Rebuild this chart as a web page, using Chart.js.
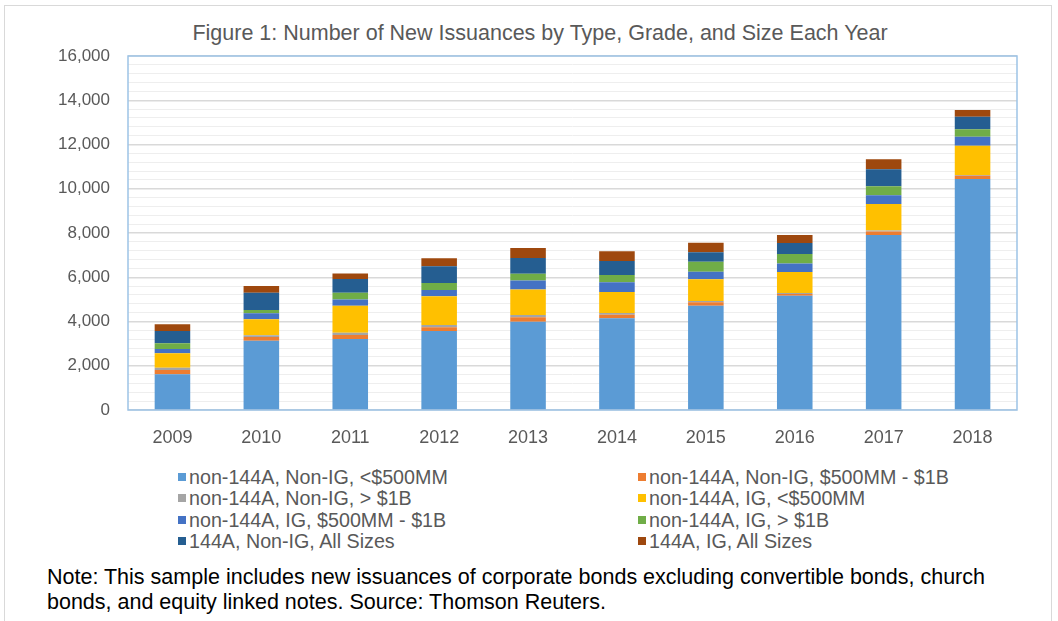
<!DOCTYPE html>
<html>
<head>
<meta charset="utf-8">
<script src="https://cdn.jsdelivr.net/npm/chart.js@4"></script>
<style>
  body { margin: 0; background: #fff; font-family: "Liberation Sans", Arial, sans-serif; }
  #frame { position: absolute; left: 4px; top: 5px; width: 1046px; height: 640px; border: 1px solid #d9d9d9; }
  #title { position: absolute; left: 0; top: 20px; width: 1080px; text-align: center; color: #595959; font-size: 21.5px; line-height: 26px; }
  #wrap { position: absolute; left: 0; top: 0; width: 1058px; height: 460px; }
  #legend { position: absolute; left: 0; top: 467px; width: 1058px; color: #595959; font-size: 19.7px; }
  .item { position: absolute; white-space: nowrap; line-height: 21px; }
  .item span { display: inline-block; width: 8px; height: 8px; margin-right: 3px; vertical-align: 3px; }
  #note { position: absolute; left: 47px; top: 565px; width: 938px; color: #000; font-size: 21.5px; line-height: 25px; }
  #note .l1 { text-align: justify; text-align-last: justify; }
</style>
</head>
<body>
<div id="frame"></div>
<div id="title">Figure 1: Number of New Issuances by Type, Grade, and Size Each Year</div>
<div id="wrap"><canvas id="chart"></canvas></div>
<div id="legend"></div>
<div id="note">
  <div class="l1">Note: This sample includes new issuances of corporate bonds excluding convertible bonds, church</div>
  <div>bonds, and equity linked notes. Source: Thomson Reuters.</div>
</div>
<script>
  const years = ['2009', '2010', '2011', '2012', '2013', '2014', '2015', '2016', '2017', '2018'];

  const nonNigSmall = [1613, 3130, 3209, 3571, 3992, 4144, 4716, 5160, 7910, 10441];
  const nonNigMid   = [200, 170, 180, 166, 196, 160, 150, 80, 160, 150];
  const nonNigLarge = [100, 80, 105, 105, 110, 80, 60, 50, 40, 30];
  const nonIgSmall  = [650, 720, 1220, 1296, 1145, 950, 979, 950, 1205, 1326];
  const nonIgMid    = [195, 270, 286, 286, 415, 437, 346, 380, 392, 407];
  const nonIgLarge  = [256, 150, 300, 316, 301, 331, 452, 435, 407, 331];
  const a144Nig     = [557, 783, 618, 753, 708, 633, 422, 497, 770, 572];
  const a144Ig      = [300, 300, 256, 362, 452, 437, 437, 360, 452, 301];

  const seriesNames = [
    'non-144A, Non-IG, <$500MM',
    'non-144A, Non-IG, $500MM - $1B',
    'non-144A, Non-IG, > $1B',
    'non-144A, IG, <$500MM',
    'non-144A, IG, $500MM - $1B',
    'non-144A, IG, > $1B',
    '144A, Non-IG, All Sizes',
    '144A, IG, All Sizes'
  ];
  const seriesColors = ['#5B9BD5', '#ED7D31', '#A5A5A5', '#FFC000', '#4472C4', '#70AD47', '#255E91', '#9E480E'];
  const seriesData = [nonNigSmall, nonNigMid, nonNigLarge, nonIgSmall, nonIgMid, nonIgLarge, a144Nig, a144Ig];

  const plotBorder = {
    id: 'plotBorder',
    beforeDatasetsDraw(chart) {
      const a = chart.chartArea, ctx = chart.ctx;
      ctx.save();
      ctx.strokeStyle = '#9DC3E6';
      ctx.lineWidth = 1.5;
      ctx.strokeRect(a.left, a.top, a.right - a.left, a.bottom - a.top);
      ctx.restore();
    }
  };

  const chart = new Chart(document.getElementById('chart'), {
    type: 'bar',
    data: {
      labels: years,
      datasets: seriesData.map((d, i) => ({
        label: seriesNames[i],
        data: d,
        backgroundColor: seriesColors[i],
        borderWidth: 0
      }))
    },
    options: {
      responsive: true,
      maintainAspectRatio: false,
      animation: false,
      layout: { padding: { left: 0, right: 41, top: 56, bottom: 0 } },
      datasets: { bar: { categoryPercentage: 0.4, barPercentage: 1 } },
      plugins: {
        legend: { display: false },
        tooltip: { enabled: false },
        title: { display: false }
      },
      scales: {
        x: {
          stacked: true,
          grid: { display: false },
          border: { display: false },
          ticks: { color: '#595959', padding: 9, font: { family: '"Liberation Sans", Arial', size: 18 } },
          afterFit(s) { s.height = 50; }
        },
        y: {
          stacked: true,
          min: 0,
          max: 16000,
          border: { display: false },
          grid: {
            drawTicks: false,
            color: c => (c.tick && c.tick.value % 2000 === 0) ? '#d9d9d9' : '#eeeeee',
            lineWidth: c => (c.tick && c.tick.value % 2000 === 0) ? 1.5 : 1
          },
          ticks: {
            stepSize: 400,
            autoSkip: false,
            padding: 18,
            color: '#595959',
            font: { family: '"Liberation Sans", Arial', size: 17 },
            callback: v => v % 2000 === 0 ? v.toLocaleString('en-US') : ''
          },
          afterFit(s) { s.width = 128; }
        }
      }
    },
    plugins: [plotBorder]
  });

  // two-column legend built from the datasets
  const legend = document.getElementById('legend');
  chart.data.datasets.forEach((ds, i) => {
    const el = document.createElement('div');
    el.className = 'item';
    el.style.left = (i % 2 === 0 ? 178 : 638) + 'px';
    el.style.top = (Math.floor(i / 2) * 21.3) + 'px';
    el.innerHTML = '<span style="background:' + ds.backgroundColor + '"></span>';
    el.appendChild(document.createTextNode(ds.label));
    legend.appendChild(el);
  });
</script>
</body>
</html>
